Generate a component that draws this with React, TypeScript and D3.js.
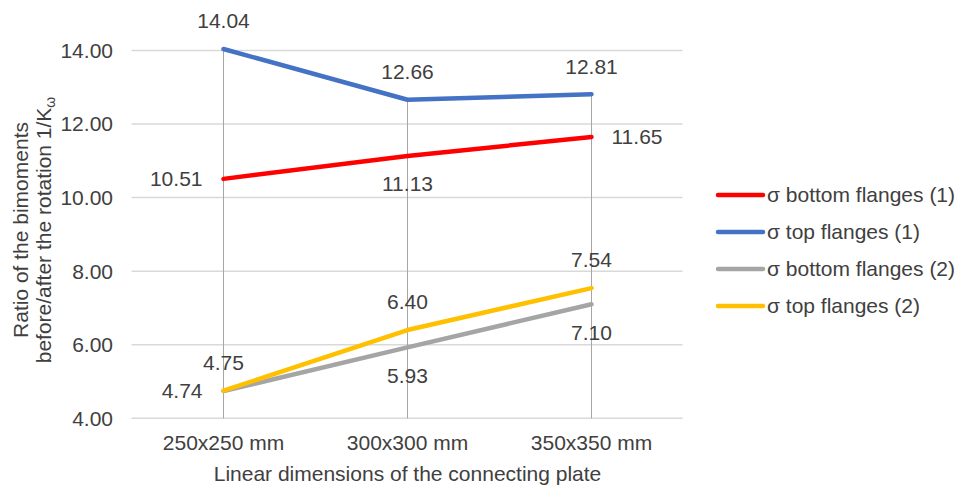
import React from "react";
import * as d3 from "d3";

const categories = ["250x250 mm", "300x300 mm", "350x350 mm"];
const seriesNames = [
  "σ bottom flanges (1)",
  "σ top flanges (1)",
  "σ bottom flanges (2)",
  "σ top flanges (2)",
];
const bottomFlanges1 = [10.51, 11.13, 11.65];
const topFlanges1 = [14.04, 12.66, 12.81];
const bottomFlanges2 = [4.74, 5.93, 7.1];
const topFlanges2 = [4.75, 6.4, 7.54];
const yTicks = [4, 6, 8, 10, 12, 14];

const colors = ["#FF0000", "#4472C4", "#A5A5A5", "#FFC000"];
// label placement for each series at each category
const labelPos: string[][] = [
  ["left", "below", "right"],
  ["above", "above", "above"],
  ["left", "below", "below"],
  ["above", "above", "above"],
];

const W = 959;
const H = 487;
const FS = 21;
const plot = { left: 131.5, right: 683.5, top: 50.5, bottom: 418.3 };

export default function App() {
  const x = d3
    .scalePoint<string>()
    .domain(categories)
    .range([plot.left, plot.right])
    .padding(0.5);
  const y = d3.scaleLinear().domain([4, 14]).range([plot.bottom, plot.top]);
  const data = [bottomFlanges1, topFlanges1, bottomFlanges2, topFlanges2];
  // drawing order: series (2) underneath, series (1) on top
  const order = [2, 3, 0, 1];
  const line = d3
    .line<number>()
    .x((_, i) => x(categories[i]) as number)
    .y((d) => y(d));

  const font = "'Liberation Sans', Arial, sans-serif";
  const txt = "#404040";

  const labelFor = (s: number, i: number) => {
    const v = data[s][i];
    const px = x(categories[i]) as number;
    const py = y(v);
    const pos = labelPos[s][i];
    let tx = px;
    let ty = py;
    let anchor: "start" | "middle" | "end" = "middle";
    if (pos === "above") ty = py - 28;
    else if (pos === "below") ty = py + 28;
    else if (pos === "left") {
      tx = px - 21;
      anchor = "end";
    } else {
      tx = px + 20;
      anchor = "start";
    }
    return (
      <text
        key={`l${s}-${i}`}
        x={tx}
        y={ty}
        dy="0.35em"
        textAnchor={anchor}
        fontSize={FS}
        fill={txt}
      >
        {v.toFixed(2)}
      </text>
    );
  };

  return (
    <svg
      width={W}
      height={H}
      style={{ position: "absolute", left: 0, top: 0, background: "#fff" }}
      fontFamily={font}
    >
      {/* horizontal gridlines */}
      {yTicks.map((t) => (
        <line
          key={`g${t}`}
          x1={plot.left}
          x2={plot.right - 1}
          y1={y(t)}
          y2={y(t)}
          stroke="#D9D9D9"
          strokeWidth={1.5}
        />
      ))}
      {/* y tick labels */}
      {yTicks.map((t) => (
        <text
          key={`t${t}`}
          x={plot.left - 18.5}
          y={y(t)}
          dy="0.35em"
          textAnchor="end"
          fontSize={FS}
          fill={txt}
        >
          {t.toFixed(2)}
        </text>
      ))}
      {/* drop lines from highest point to the axis */}
      {categories.map((c, i) => {
        const maxV = d3.max(data, (d) => d[i]) as number;
        return (
          <line
            key={`d${c}`}
            x1={x(c)}
            x2={x(c)}
            y1={y(maxV)}
            y2={plot.bottom}
            stroke="#A6A6A6"
            strokeWidth={1}
          />
        );
      })}
      {/* series lines */}
      {order.map((s) => (
        <path
          key={`s${s}`}
          d={line(data[s]) as string}
          fill="none"
          stroke={colors[s]}
          strokeWidth={4.5}
          strokeLinecap="round"
          strokeLinejoin="round"
        />
      ))}
      {/* data labels */}
      {data.map((d, s) => d.map((_, i) => labelFor(s, i)))}
      {/* category labels */}
      {categories.map((c) => (
        <text
          key={`c${c}`}
          x={x(c)}
          y={450}
          textAnchor="middle"
          fontSize={FS}
          fill={txt}
        >
          {c}
        </text>
      ))}
      {/* axis titles */}
      <text
        x={(plot.left + plot.right) / 2}
        y={481}
        textAnchor="middle"
        fontSize={FS}
        fill={txt}
      >
        Linear dimensions of the connecting plate
      </text>
      <g transform="translate(28,230) rotate(-90)">
        <text x={0} y={0} textAnchor="middle" fontSize={FS} fill={txt}>
          Ratio of the bimoments
        </text>
        <text x={0} y={23} textAnchor="middle" fontSize={FS} fill={txt}>
          before/after the rotation 1/K
          <tspan fontSize={14} dy={4}>
            ω
          </tspan>
        </text>
      </g>
      {/* legend */}
      {seriesNames.map((n, s) => {
        const ly = 195 + s * 37;
        return (
          <g key={`lg${s}`}>
            <line
              x1={718}
              x2={763}
              y1={ly}
              y2={ly}
              stroke={colors[s]}
              strokeWidth={4.5}
              strokeLinecap="round"
            />
            <text x={767} y={ly} dy="0.35em" fontSize={FS} fill={txt}>
              {n}
            </text>
          </g>
        );
      })}
    </svg>
  );
}
